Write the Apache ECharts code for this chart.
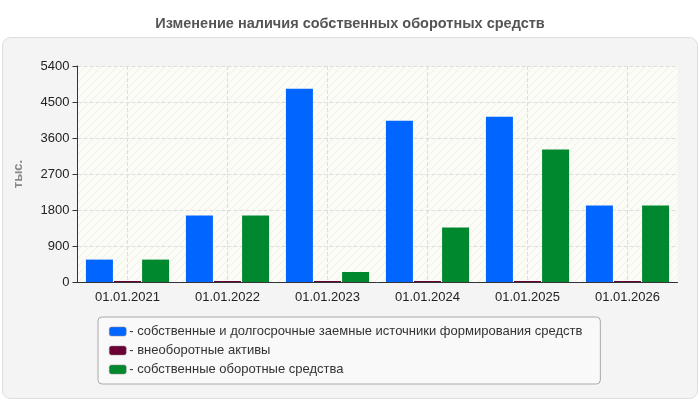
<!DOCTYPE html>
<html>
<head>
<meta charset="utf-8">
<script src="https://cdn.jsdelivr.net/npm/echarts@6/dist/echarts.min.js"></script>
<style>
  html, body { margin: 0; padding: 0; background: #fff; }
  #main { width: 700px; height: 400px; }
</style>
</head>
<body>
<div id="main"></div>
<script>
// data
var dates = ['01.01.2021', '01.01.2022', '01.01.2023', '01.01.2024', '01.01.2025', '01.01.2026'];
var ownAndLongTerm = [560, 1660, 4830, 4030, 4130, 1910];
var nonCurrent = [25, 25, 25, 25, 25, 25];
var ownWorking = [560, 1660, 250, 1360, 3310, 1910];
var seriesNames = [
    'собственные и долгосрочные заемные источники формирования средств',
    'внеоборотные активы',
    'собственные оборотные средства'
];

// hatched background for the plot area
var hatch = document.createElement('canvas');
hatch.width = 8;
hatch.height = 8;
var hctx = hatch.getContext('2d');
hctx.fillStyle = '#fcfcf7';
hctx.fillRect(0, 0, 8, 8);
hctx.strokeStyle = '#efefeb';
hctx.lineWidth = 1;
hctx.beginPath();
hctx.moveTo(0, 8); hctx.lineTo(8, 0);
hctx.moveTo(-4, 4); hctx.lineTo(4, -4);
hctx.moveTo(4, 12); hctx.lineTo(12, 4);
hctx.stroke();

var myChart = echarts.init(document.getElementById('main'));
myChart.setOption({
    animation: false,
    textStyle: { fontFamily: '"Liberation Sans", Arial, sans-serif' },
    title: {
        text: 'Изменение наличия собственных оборотных средств',
        left: 'center',
        top: 11,
        textStyle: { fontSize: 14.5, fontWeight: 'bold', color: '#555' }
    },
    graphic: [{
        type: 'rect',
        z: -10,
        shape: { x: 2.5, y: 37.5, width: 695, height: 361, r: 8 },
        style: { fill: '#f4f4f4', stroke: '#dddddd', lineWidth: 1 }
    }],
    grid: {
        left: 77.5, right: 22.5, top: 66, bottom: 118,
        show: true,
        borderWidth: 0,
        backgroundColor: { image: hatch, repeat: 'repeat' }
    },
    legend: {
        orient: 'vertical',
        left: 98,
        top: 317,
        padding: [8, 18, 8, 11],
        itemGap: 6,
        itemWidth: 17,
        itemHeight: 9,
        icon: 'roundRect',
        borderColor: '#aaaaaa',
        borderWidth: 1,
        borderRadius: 4,
        backgroundColor: '#f9f9f9',
        itemStyle: { borderColor: '#888', borderWidth: 0.5 },
        formatter: function (name) { return '- ' + name; },
        textStyle: { fontSize: 13, color: '#333', padding: [0, 0, 0, -2] },
        data: seriesNames
    },
    xAxis: {
        type: 'category',
        data: dates,
        axisLine: { lineStyle: { color: '#333', width: 1 } },
        axisTick: { alignWithLabel: true, length: 5, lineStyle: { color: '#333' } },
        axisLabel: { color: '#222', fontSize: 13, margin: 9 },
        splitLine: { show: true, alignWithLabel: true, lineStyle: { color: '#dddddd', type: 'dashed' } }
    },
    yAxis: {
        type: 'value',
        min: 0,
        max: 5400,
        interval: 900,
        name: 'тыс.',
        nameLocation: 'middle',
        nameGap: 53,
        nameTextStyle: { color: '#888', fontSize: 13, fontWeight: 'bold' },
        axisLine: { show: true, lineStyle: { color: '#333', width: 1 } },
        axisTick: { show: true, length: 5, lineStyle: { color: '#333' } },
        axisLabel: { color: '#222', fontSize: 13, margin: 8, formatter: function (v) { return String(v); } },
        splitLine: { lineStyle: { color: '#dddddd', type: 'dashed' } }
    },
    series: [
        {
            name: seriesNames[0],
            type: 'bar',
            data: ownAndLongTerm,
            barWidth: 27,
            barGap: '4%',
            itemStyle: { color: '#0066ff' }
        },
        {
            name: seriesNames[1],
            type: 'bar',
            data: nonCurrent,
            barWidth: 27,
            barGap: '4%',
            itemStyle: { color: '#6b0034' }
        },
        {
            name: seriesNames[2],
            type: 'bar',
            data: ownWorking,
            barWidth: 27,
            barGap: '4%',
            itemStyle: { color: '#00882e' }
        }
    ]
});
</script>
</body>
</html>
